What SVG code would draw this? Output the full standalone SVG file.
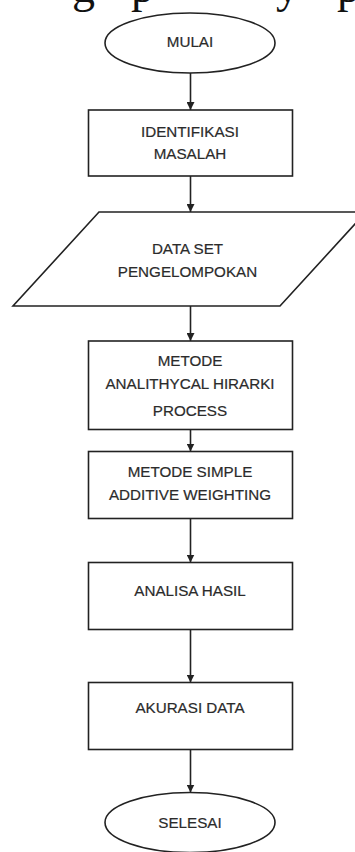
<svg xmlns="http://www.w3.org/2000/svg" width="355" height="852" viewBox="0 0 355 852">
  <style>
    .shape { fill: #ffffff; stroke: #222222; stroke-width: 1.6; }
    .lbl { font-family: "Liberation Sans", Arial, sans-serif; font-size: 15.2px; fill: #2b2b2b; stroke: #2b2b2b; stroke-width: 0.2; text-anchor: middle; }
    .conn { stroke: #222222; stroke-width: 1.6; fill: none; marker-end: url(#ah); }
    .frag { font-family: "Liberation Serif", "Times New Roman", serif; font-size: 46px; fill: #111111; }
  </style>
  <defs>
    <marker id="ah" viewBox="0 0 10 10" refX="10" refY="5" markerWidth="5" markerHeight="5" orient="auto" markerUnits="strokeWidth">
      <path d="M0,0 L10,5 L0,10 z" fill="#222222"/>
    </marker>
  </defs>
  <rect width="355" height="852" fill="#ffffff"/>

  <g id="page-text-fragment">
    <text class="frag" y="1.5"><tspan x="72">g</tspan><tspan x="131">p</tspan><tspan x="276">y</tspan><tspan x="337">p</tspan></text>
  </g>

  <g id="connectors">
    <line class="conn" x1="190.5" y1="73" x2="190.5" y2="110"/>
    <line class="conn" x1="190.5" y1="176" x2="190.5" y2="212"/>
    <line class="conn" x1="190.5" y1="306" x2="190.5" y2="341"/>
    <line class="conn" x1="190.5" y1="429" x2="190.5" y2="451.5"/>
    <line class="conn" x1="190.5" y1="518" x2="190.5" y2="562.5"/>
    <line class="conn" x1="190.5" y1="629" x2="190.5" y2="682.5"/>
    <line class="conn" x1="190.5" y1="749" x2="190.5" y2="792.5"/>
  </g>

  <g id="mulai">
    <ellipse class="shape" cx="190" cy="43" rx="85" ry="30"/>
    <text class="lbl" x="190" y="46.5">MULAI</text>
  </g>

  <g id="identifikasi">
    <rect class="shape" x="88.5" y="110" width="204" height="66"/>
    <text class="lbl" x="190" y="136.5">IDENTIFIKASI</text>
    <text class="lbl" x="190" y="158.5">MASALAH</text>
  </g>

  <g id="dataset">
    <polygon class="shape" points="99,212 366,212 280,306 13,306"/>
    <text class="lbl" x="187.5" y="253.5">DATA SET</text>
    <text class="lbl" x="187.5" y="276.5">PENGELOMPOKAN</text>
  </g>

  <g id="ahp">
    <rect class="shape" x="88.5" y="341" width="204" height="88.5"/>
    <text class="lbl" x="190" y="365.5">METODE</text>
    <text class="lbl" x="190" y="389">ANALITHYCAL HIRARKI</text>
    <text class="lbl" x="190" y="415.5">PROCESS</text>
  </g>

  <g id="saw">
    <rect class="shape" x="88.5" y="451.5" width="204" height="67"/>
    <text class="lbl" x="190" y="476.5">METODE SIMPLE</text>
    <text class="lbl" x="190" y="500">ADDITIVE WEIGHTING</text>
  </g>

  <g id="analisa">
    <rect class="shape" x="88.5" y="562.5" width="204" height="67"/>
    <text class="lbl" x="190" y="595.5">ANALISA HASIL</text>
  </g>

  <g id="akurasi">
    <rect class="shape" x="88.5" y="682.5" width="204" height="67"/>
    <text class="lbl" x="190" y="712.5">AKURASI DATA</text>
  </g>

  <g id="selesai">
    <ellipse class="shape" cx="190" cy="822.5" rx="85" ry="30"/>
    <text class="lbl" x="190" y="827.5">SELESAI</text>
  </g>
</svg>
